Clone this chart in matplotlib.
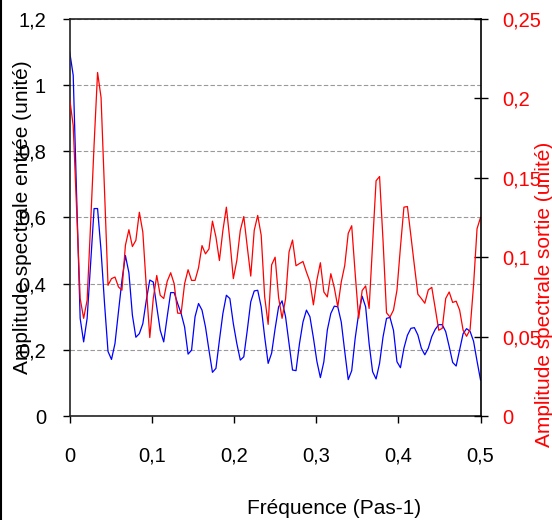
import numpy as np
import matplotlib
matplotlib.use('Agg')
import matplotlib.pyplot as plt
from matplotlib.lines import Line2D

# --- données (119 points de fréquence, de 0 à 0,5) ---
n_bins = 119
freq = np.arange(n_bins) * 0.5 / (n_bins - 1)

# amplitude spectrale entrée (axe gauche)
amp_in = [
    1.10, 1.03, 0.66, 0.295, 0.224, 0.295, 0.46, 0.627, 0.627, 0.50,
    0.34, 0.195, 0.171, 0.219, 0.315, 0.41, 0.485, 0.433, 0.305, 0.238,
    0.249, 0.279, 0.35, 0.411, 0.405, 0.33, 0.259, 0.224, 0.30, 0.373,
    0.373, 0.34, 0.31, 0.269, 0.187, 0.199, 0.30, 0.34, 0.32, 0.269,
    0.199, 0.132, 0.144, 0.229, 0.31, 0.365, 0.355, 0.279, 0.219, 0.169,
    0.179, 0.259, 0.345, 0.378, 0.38, 0.33, 0.239, 0.159, 0.19, 0.264,
    0.33, 0.348, 0.30, 0.219, 0.139, 0.137, 0.219, 0.284, 0.32, 0.30,
    0.236, 0.165, 0.116, 0.164, 0.26, 0.31, 0.332, 0.33, 0.284, 0.195,
    0.11, 0.137, 0.235, 0.31, 0.362, 0.33, 0.219, 0.134, 0.112, 0.159,
    0.239, 0.295, 0.298, 0.259, 0.164, 0.146, 0.205, 0.244, 0.265, 0.267,
    0.245, 0.205, 0.185, 0.205, 0.24, 0.262, 0.276, 0.276, 0.255, 0.21,
    0.162, 0.151, 0.20, 0.249, 0.264, 0.256, 0.226, 0.166, 0.109,
]

# amplitude spectrale sortie (axe droit)
amp_out = [
    0.1996, 0.1829, 0.1292, 0.0740, 0.0615, 0.0729, 0.1208, 0.1708, 0.2163, 0.2006,
    0.1417, 0.0823, 0.0865, 0.0875, 0.0813, 0.0792, 0.1075, 0.1173, 0.1067, 0.1106,
    0.1283, 0.1158, 0.0813, 0.0494, 0.0740, 0.0885, 0.0760, 0.0740, 0.0848, 0.0902,
    0.0833, 0.0648, 0.0646, 0.0833, 0.0921, 0.0854, 0.0854, 0.0933, 0.1073, 0.1021,
    0.1052, 0.1227, 0.1127, 0.0979, 0.1169, 0.1315, 0.1106, 0.0865, 0.0979, 0.1169,
    0.1256, 0.1065, 0.0881, 0.1169, 0.1263, 0.1138, 0.0750, 0.0577, 0.0952, 0.1000,
    0.0746, 0.0615, 0.0738, 0.1033, 0.1108, 0.0946, 0.0960, 0.0973, 0.0906, 0.0846,
    0.0700, 0.0856, 0.0965, 0.0781, 0.0750, 0.0896, 0.0808, 0.0688, 0.0844, 0.0948,
    0.1150, 0.1198, 0.0896, 0.0615, 0.0790, 0.0819, 0.0677, 0.1083, 0.1481, 0.1508,
    0.1104, 0.0650, 0.0623, 0.0667, 0.0792, 0.1063, 0.1315, 0.1319, 0.1135, 0.0948,
    0.0767, 0.0740, 0.0710, 0.0794, 0.0810, 0.0677, 0.0540, 0.0552, 0.0740, 0.0781,
    0.0715, 0.0723, 0.0667, 0.0540, 0.0502, 0.0544, 0.0823, 0.1179, 0.1250,
]

x_ticks = [0, 0.1, 0.2, 0.3, 0.4, 0.5]
x_labels = ['0', '0,1', '0,2', '0,3', '0,4', '0,5']
left_ticks = [0, 0.2, 0.4, 0.6, 0.8, 1.0, 1.2]
left_labels = ['0', '0,2', '0,4', '0,6', '0,8', '1', '1,2']
right_ticks = [0, 0.05, 0.1, 0.15, 0.2, 0.25]
right_labels = ['0', '0,05', '0,1', '0,15', '0,2', '0,25']

plt.rcParams['font.family'] = ['Liberation Sans', 'DejaVu Sans']

fig = plt.figure(figsize=(5.52, 5.20), dpi=100)
ax = fig.add_axes([0.1263, 0.2, 0.7442, 0.7635])
ax2 = ax.twinx()

# --- courbes ---
ax.plot(freq, amp_in, color='#0000FF', lw=0.9)
ax2.plot(freq, amp_out, color='#FF0000', lw=0.9)

# --- axes ---
ax.set_xlim(0, 0.5)
ax.set_ylim(0, 1.2)
ax2.set_ylim(0, 0.25)

ax.set_xticks(x_ticks)
ax.set_xticklabels(x_labels)
ax.set_yticks(left_ticks)
ax.set_yticklabels(left_labels)
ax2.set_yticks(right_ticks)
ax2.set_yticklabels(right_labels)

ax.yaxis.grid(True, linestyle=(0, (4, 2)), color='#9a9a9a', lw=0.8)
ax.set_axisbelow(True)

ax.tick_params(axis='y', direction='out', length=5, width=1, pad=12, labelsize=14.5)
ax.tick_params(axis='x', direction='out', length=5, width=1, pad=17, labelsize=14.5)
ax2.tick_params(axis='y', direction='inout', length=10, width=1, pad=11,
                labelsize=14.5, labelcolor='#FF0000')

for s in ['left', 'bottom', 'top']:
    ax.spines[s].set_color('#222222')
    ax.spines[s].set_linewidth(1.2)
ax.spines['right'].set_visible(False)
for s in ['left', 'bottom', 'top']:
    ax2.spines[s].set_visible(False)
ax2.spines['right'].set_color('#000000')
ax2.spines['right'].set_linewidth(1.2)

# --- titres des axes ---
ax.set_ylabel('Amplitude spectrale entrée (unité)', fontsize=15)
ax.yaxis.label.set_va('center')
ax.yaxis.set_label_coords(-0.116, 0.5)

ax2.set_ylabel('Amplitude spectrale sortie (unité)', fontsize=15, color='#FF0000')
ax2.yaxis.label.set_va('center')
ax2.yaxis.set_label_coords(1.155, 0.307)

ax.set_xlabel('Fréquence (Pas-1)', fontsize=15)
ax.xaxis.label.set_va('center')
ax.xaxis.set_label_coords(0.643, -0.232)

# bord gauche du cadre
fig.add_artist(Line2D([0.002, 0.002], [0, 1], color='black', lw=1.5))

fig.savefig('out.png', dpi=100)
